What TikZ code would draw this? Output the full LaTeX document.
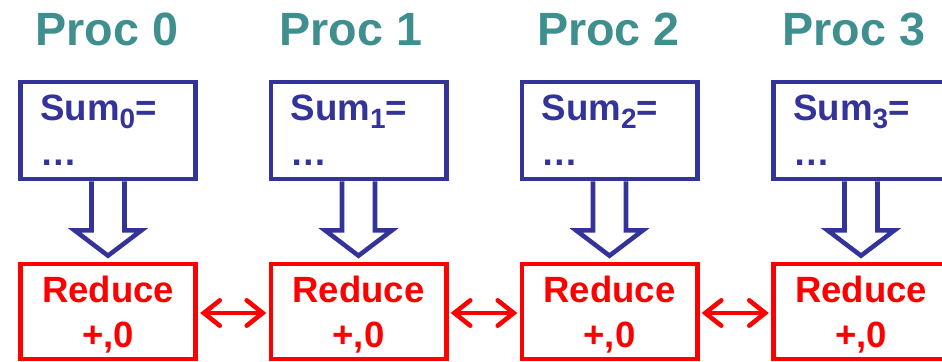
\documentclass[tikz,border=0pt]{standalone}
\usepackage{fontspec}
\setmainfont{Liberation Sans}
\usetikzlibrary{arrows.meta,calc}

\definecolor{proctitle}{RGB}{64,143,143}
\definecolor{sumblue}{RGB}{51,51,153}
\definecolor{reducered}{RGB}{255,0,0}

% subscript set in the text font
\newcommand{\idx}[1]{\raisebox{-6pt}{\fontsize{21}{21}\selectfont #1}}

\tikzset{
  title/.style={anchor=base, text=proctitle,
    font=\fontsize{35}{42}\selectfont\bfseries},
  sumbox/.style={draw=sumblue, text=sumblue, line width=3.4pt,
    minimum width=131.6pt, minimum height=72.8pt,
    inner xsep=15pt, inner ysep=0pt, text width=101.6pt, align=left,
    font=\fontsize{27.5}{33.75}\selectfont\bfseries},
  reducebox/.style={draw=reducered, text=reducered, line width=3.4pt,
    minimum width=131.6pt, minimum height=71.3pt,
    inner sep=0pt, align=center, text depth=0pt,
    font=\fontsize{27.4}{33.75}\selectfont\bfseries},
  hollowarrow/.style={draw=sumblue, line width=3.4pt, line join=miter},
  exchange/.style={draw=reducered, line width=3.4pt,
    {Straight Barb[length=12pt,width=19pt,line cap=round]}-{Straight Barb[length=12pt,width=19pt,line cap=round]},
    shorten <=1.6pt, shorten >=1.6pt}
}

\begin{document}
\begin{tikzpicture}[x=0.75pt,y=-0.75pt]
  \useasboundingbox (0,0) rectangle (942,361);
  \clip (0,0) rectangle (942,361);

  % processor titles
  \node[title] (t0) at (107,45)   {Proc 0};
  \node[title] (t1) at (351,45)   {Proc 1};
  \node[title] (t2) at (608.5,45) {Proc 2};
  \node[title] (t3) at (854,45)   {Proc 3};

  % local sums
  \node[sumbox] (b0) at (108,130.5)   {Sum\idx{0}=\\…};
  \node[sumbox] (b1) at (358.5,130.5) {Sum\idx{1}=\\…};
  \node[sumbox] (b2) at (609.5,130.5) {Sum\idx{2}=\\…};
  \node[sumbox] (b3) at (861,130.5)   {Sum\idx{3}=\\…};

  % reduce operations
  \node[reducebox] (r0) at (108,311.5)   {Reduce\\+,0};
  \node[reducebox] (r1) at (358.5,311.5) {Reduce\\+,0};
  \node[reducebox] (r2) at (609.5,311.5) {Reduce\\+,0};
  \node[reducebox] (r3) at (861,311.5)   {Reduce\\+,0};

  % hollow arrows from each sum into its reduce
  \foreach \i in {0,1,2,3}{
    \draw[hollowarrow]
      ($(b\i.south)+(-16.5,0)$) -- ($(b\i.south)+(-16.5,49)$)
      -- ($(b\i.south)+(-33.5,49)$) -- ($(r\i.north)+(0,-6)$)
      -- ($(b\i.south)+(33.5,49)$) -- ($(b\i.south)+(16.5,49)$)
      -- ($(b\i.south)+(16.5,0)$);
  }

  % exchanges between neighbouring reduces
  \draw[exchange] ($(r0.east)+(0,1.5)$) -- ($(r1.west)+(0,1.5)$);
  \draw[exchange] ($(r1.east)+(0,1.5)$) -- ($(r2.west)+(0,1.5)$);
  \draw[exchange] ($(r2.east)+(0,1.5)$) -- ($(r3.west)+(0,1.5)$);
\end{tikzpicture}
\end{document}
